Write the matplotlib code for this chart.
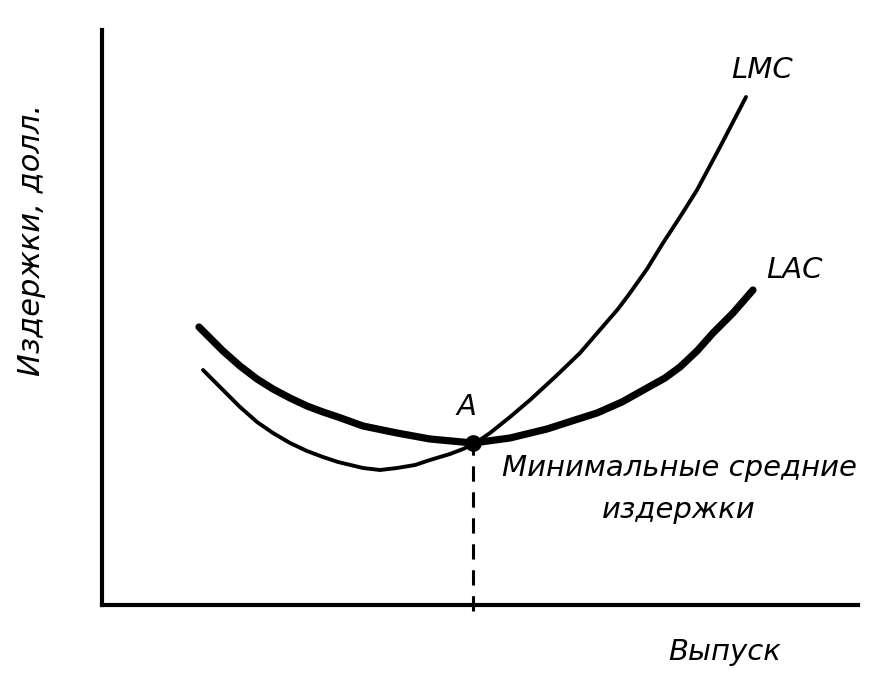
import numpy as np
import matplotlib as mpl
mpl.use('Agg')
from matplotlib import pyplot as plt

# ---------------- data ----------------
# output (x) and cost (y) in arbitrary units, origin at the axes corner
lac_q = [97, 108, 121, 138, 155, 171, 188, 205, 221, 236, 261, 295, 328, 371,
         408, 445, 473, 495, 520, 545, 563, 578, 595, 611, 631, 651]
lac_c = [278, 267, 254, 239, 226, 216, 207, 199, 193, 188, 179, 172, 166, 162,
         167, 176, 185, 192, 203, 217, 227, 238, 254, 272, 292, 315]

lmc_q = [101, 111, 121, 138, 155, 171, 188, 205, 221, 236, 261, 278, 295, 313, 328,
         348, 361, 372, 388, 408, 428, 453, 478, 503, 516, 528, 545, 561, 578, 595, 618, 644]
lmc_c = [235, 225, 215, 198, 183, 172, 162, 154, 148, 143, 137, 135, 137, 140, 145,
         151, 156, 161, 172, 188, 205, 228, 252, 281, 296, 312, 336, 362, 388, 415, 458, 508]

point_a = (371, 162)

x_max, y_max = 756, 575

font = {'family': 'DejaVu Sans', 'style': 'italic', 'color': 'black', 'size': 21}

fig = plt.figure(figsize=(8.7, 6.89), dpi=100)
ax = fig.add_axes([102 / 870, 84 / 689, 756 / 870, 575 / 689])

# curves
ax.plot(lac_q, lac_c, color='black', linewidth=5.2, solid_capstyle='round', solid_joinstyle='round')
ax.plot(lmc_q, lmc_c, color='black', linewidth=2.8, solid_capstyle='round', solid_joinstyle='round')

# minimum point and drop line
ax.plot([point_a[0], point_a[0]], [-6, point_a[1]], color='black', linewidth=2.2,
        linestyle=(0, (5, 3.5)), clip_on=False)
ax.plot(point_a[0], point_a[1], 'o', color='black', markersize=11, zorder=5)

# labels
ax.text(660, 535, 'LMC', ha='center', va='center', fontdict=font)
ax.text(692, 335, 'LAC', ha='center', va='center', fontdict=font)
ax.text(364, 198, 'A', ha='center', va='center', fontdict=font)
ax.text(577, 116, 'Минимальные средние\nиздержки', ha='center', va='center',
        linespacing=1.6, fontdict=font)
ax.text(623, -47, 'Выпуск', ha='center', va='center', fontdict=font, clip_on=False)
ax.text(-70, 365, 'Издержки, долл.', ha='center', va='center', rotation=90,
        fontdict=dict(font, size=22), clip_on=False)

ax.set_xlim(0, x_max)
ax.set_ylim(0, y_max)
for s in ['top', 'right']:
    ax.spines[s].set_visible(False)
for s in ['left', 'bottom']:
    ax.spines[s].set_linewidth(3)
ax.set_xticks([])
ax.set_yticks([])

plt.savefig('out.png', dpi=100)
